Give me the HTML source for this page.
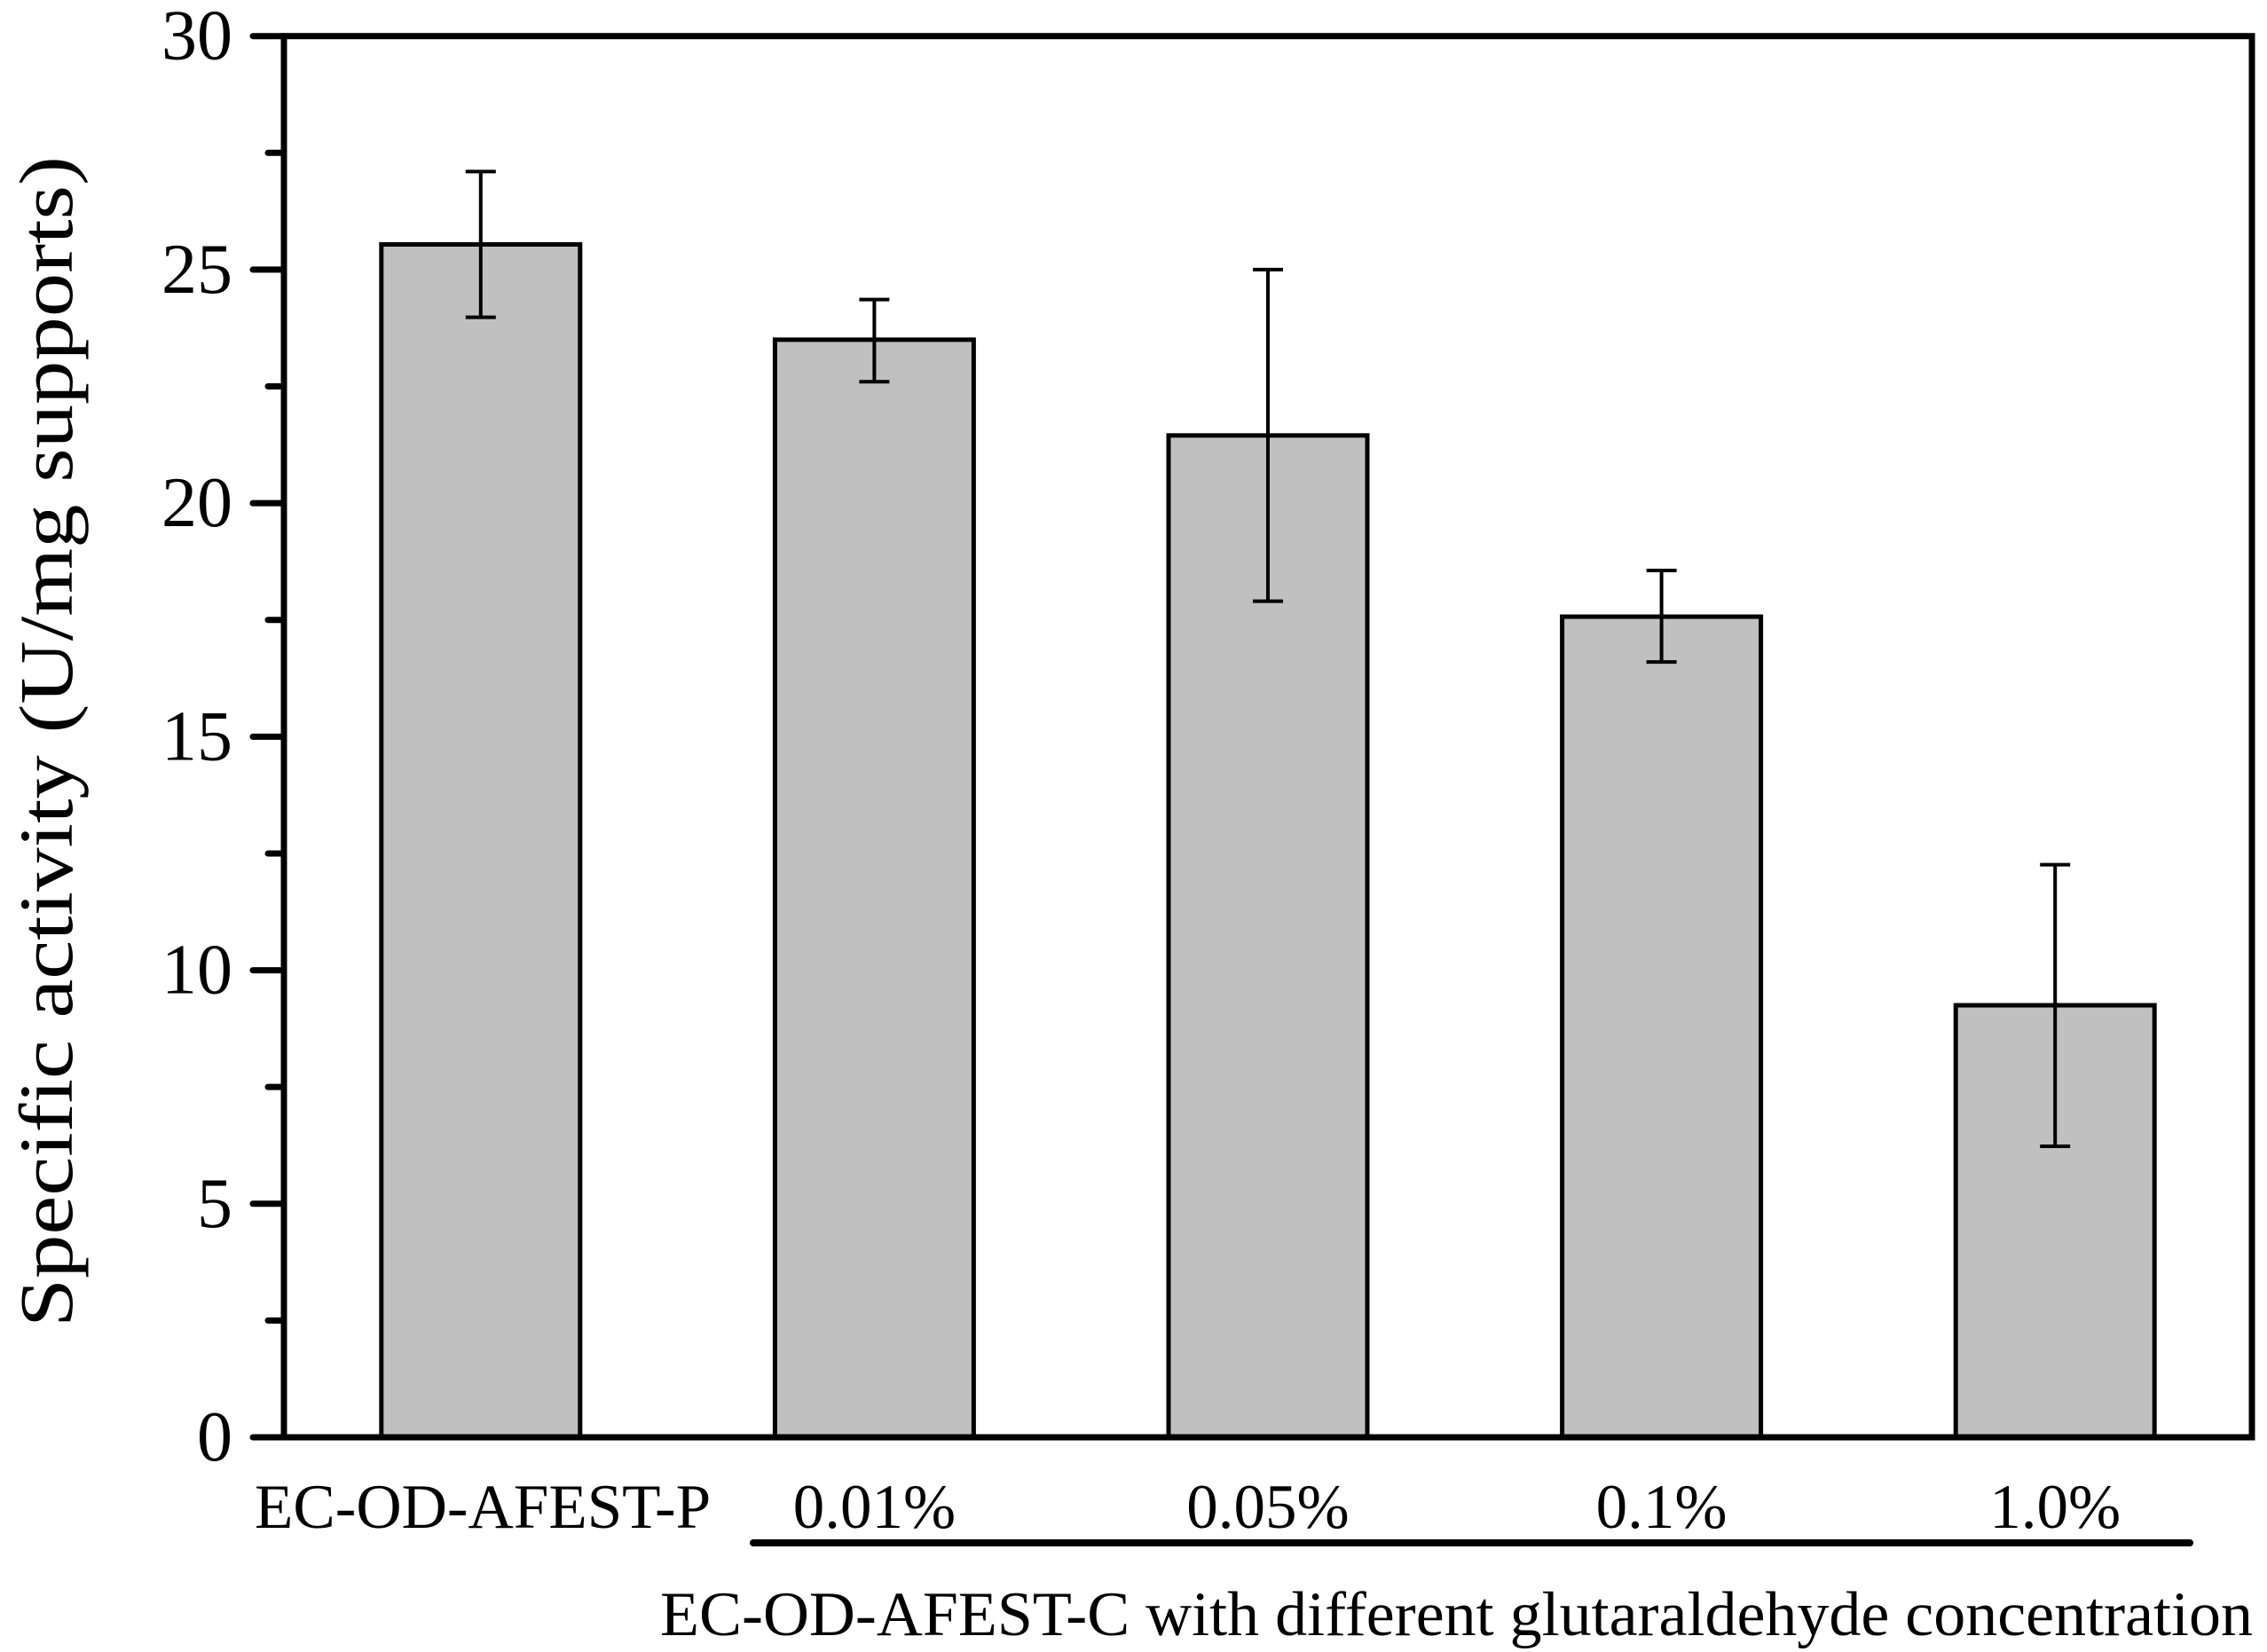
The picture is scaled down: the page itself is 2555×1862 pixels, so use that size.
<!DOCTYPE html>
<html><head><meta charset="utf-8"><style>
html,body{margin:0;padding:0;background:#fff;}
svg{display:block;font-family:"Liberation Serif",serif;}
</style></head><body>
<svg id="chart" width="2555" height="1862" viewBox="0 0 2555 1862" xmlns="http://www.w3.org/2000/svg">
<g id="bars"></g>
<g id="axes"></g>
<text x="0" y="0" transform="translate(52,836) rotate(-90)" font-size="86" text-anchor="middle" dominant-baseline="central" textLength="1320" lengthAdjust="spacingAndGlyphs">Specific activity (U/mg supports)</text>
<line x1="849" y1="1739" x2="2468" y2="1739" stroke="#000" stroke-width="8" stroke-linecap="round"/>
<text x="2539" y="1843" font-size="71" text-anchor="end" textLength="1795" lengthAdjust="spacingAndGlyphs">EC-OD-AFEST-C with different glutaraldehyde concentration</text>
</svg>
<script>
const categories = ["EC-OD-AFEST-P","0.01%","0.05%","0.1%","1.0%"];
const values = [25.54, 23.5, 21.45, 17.57, 9.25];
const errUpper = [27.1, 24.36, 25.0, 18.56, 12.26];
const errLower = [23.98, 22.6, 17.9, 16.6, 6.23];
const yTicks = [0,5,10,15,20,25,30];

const NS="http://www.w3.org/2000/svg";
const X0=320, X1=2538, Y0=1620, Y1=40.7, YMAX=30;
const slot=(X1-X0)/categories.length, barW=224;
function yS(v){return Y0-(v/YMAX)*(Y0-Y1);}
function xC(i){return X0+slot*(i+0.5);}
function mk(tag,attrs,parent){const e=document.createElementNS(NS,tag);for(const k in attrs)e.setAttribute(k,attrs[k]);parent.appendChild(e);return e;}
const bars=document.getElementById('bars'), axes=document.getElementById('axes');
categories.forEach((c,i)=>{
  const r=mk('rect',{x:xC(i)-barW/2,y:yS(values[i]),width:barW,height:yS(0)-yS(values[i]),fill:'#c0c0c0',stroke:'#000','stroke-width':5},bars);
  
  
  const g=mk('g',{stroke:'#000','stroke-width':4},bars);
  
  
  mk('line',{x1:xC(i),x2:xC(i),y1:yS(errUpper[i]),y2:yS(errLower[i])},g);
  mk('line',{x1:xC(i)-17,x2:xC(i)+17,y1:yS(errUpper[i]),y2:yS(errUpper[i])},g);
  mk('line',{x1:xC(i)-17,x2:xC(i)+17,y1:yS(errLower[i]),y2:yS(errLower[i])},g);
  const t=mk('text',{x:i===0?287:xC(i),y:1722,'font-size':71,'text-anchor':i===0?'start':'middle'},axes);
  t.textContent=c;
  
  
});
const frame=mk('rect',{x:X0,y:Y1,width:X1-X0,height:Y0-Y1,fill:'none',stroke:'#000','stroke-width':7},axes);


for(let v=0;v<=YMAX;v+=2.5){
  const major=(v%5===0);
  const tk=mk('line',{x1:X0-(major?35:18),x2:X0,y1:yS(v),y2:yS(v),stroke:'#000','stroke-width':7,'stroke-linecap':'round'},axes);
  
  
}
yTicks.forEach(v=>{
  const t=mk('text',{x:262,y:yS(v),'font-size':80,'text-anchor':'end','dominant-baseline':'central'},axes);
  t.textContent=v;
  
  
});
</script>
</body></html>
